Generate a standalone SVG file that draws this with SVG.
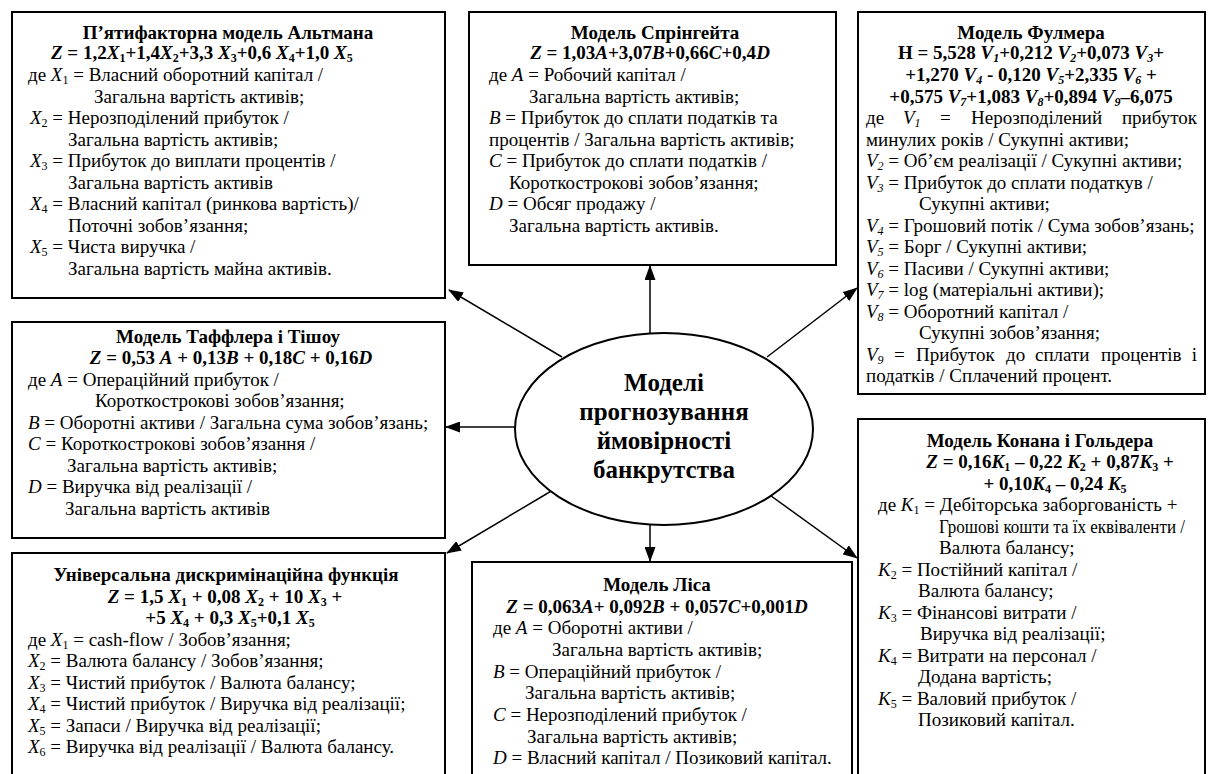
<svg xmlns="http://www.w3.org/2000/svg" width="1214" height="774" viewBox="0 0 1214 774">
<defs>
<style>
.bx{fill:#fff;stroke:#000;stroke-width:2}
.t{font-family:"Liberation Serif","Times New Roman",serif;font-size:19px;fill:#000}
.b{font-weight:bold}
.i{font-style:italic}
.c{text-anchor:middle}
.e{text-anchor:end}
.s{font-size:12px}
.big{font-family:"Liberation Serif","Times New Roman",serif;font-size:25px;font-weight:bold;text-anchor:middle;fill:#000}
.ln{stroke:#000;stroke-width:1.5;fill:none;marker-end:url(#ah)}
</style>
<marker id="ah" markerUnits="userSpaceOnUse" markerWidth="15" markerHeight="11" refX="14" refY="5.5" orient="auto">
<path d="M0,0 L15,5.5 L0,11 z" fill="#000"/>
</marker>
</defs>
<rect width="1214" height="774" fill="#fff"/>

<g id="connectors">
<line class="ln" x1="562" y1="357" x2="449" y2="290"/>
<line class="ln" x1="650" y1="334" x2="650" y2="266"/>
<line class="ln" x1="767" y1="357" x2="857" y2="288"/>
<line class="ln" x1="515" y1="427" x2="446" y2="427"/>
<line class="ln" x1="553" y1="490" x2="447" y2="553"/>
<line class="ln" x1="650" y1="524" x2="650" y2="561"/>
<line class="ln" x1="767" y1="493" x2="857" y2="558"/>
</g>

<g id="altman">
<rect class="bx" x="12" y="12" width="433" height="286"/>
<text class="t b c" x="228" y="39">П’ятифакторна модель Альтмана</text>
<text class="t b" x="51" y="59"><tspan class="i">Z</tspan> = 1,2<tspan class="i">X</tspan><tspan class="s" dy="3">1</tspan><tspan dy="-3">+1,4</tspan><tspan class="i">X</tspan><tspan class="s" dy="3">2</tspan><tspan dy="-3">+3,3 </tspan><tspan class="i">X</tspan><tspan class="s" dy="3">3</tspan><tspan dy="-3">+0,6 </tspan><tspan class="i">X</tspan><tspan class="s" dy="3">4</tspan><tspan dy="-3">+1,0 </tspan><tspan class="i">X</tspan><tspan class="s" dy="3">5</tspan></text>
<text class="t" x="28" y="81">де <tspan class="i">X</tspan><tspan class="s" dy="3">1</tspan><tspan dy="-3"> = Власний оборотний капітал /</tspan></text>
<text class="t" x="94" y="102.5">Загальна вартість активів;</text>
<text class="t" x="30" y="124"><tspan class="i">X</tspan><tspan class="s" dy="3">2</tspan><tspan dy="-3"> = Нерозподілений прибуток /</tspan></text>
<text class="t" x="68" y="145.5">Загальна вартість активів;</text>
<text class="t" x="30" y="167"><tspan class="i">X</tspan><tspan class="s" dy="3">3</tspan><tspan dy="-3"> = Прибуток до виплати процентів /</tspan></text>
<text class="t" x="68" y="188.5">Загальна вартість активів</text>
<text class="t" x="30" y="210"><tspan class="i">X</tspan><tspan class="s" dy="3">4</tspan><tspan dy="-3"> = Власний капітал (ринкова вартість)/</tspan></text>
<text class="t" x="68" y="231.5">Поточні зобов’язання;</text>
<text class="t" x="30" y="253"><tspan class="i">X</tspan><tspan class="s" dy="3">5</tspan><tspan dy="-3"> = Чиста виручка /</tspan></text>
<text class="t" x="68" y="274.5">Загальна вартість майна активів.</text>
</g>

<g id="springate">
<rect class="bx" x="469" y="12" width="367" height="253"/>
<text class="t b c" x="655" y="39">Модель Спрінгейта</text>
<text class="t b c" x="650" y="59"><tspan class="i">Z</tspan> = 1,03<tspan class="i">A</tspan>+3,07<tspan class="i">B</tspan>+0,66<tspan class="i">C</tspan>+0,4<tspan class="i">D</tspan></text>
<text class="t" x="489" y="81">де <tspan class="i">A</tspan> = Робочий капітал /</text>
<text class="t" x="529" y="102.5">Загальна вартість активів;</text>
<text class="t" x="489" y="124"><tspan class="i">B</tspan> = Прибуток до сплати податків та</text>
<text class="t" x="489" y="145.5">процентів / Загальна вартість активів;</text>
<text class="t" x="489" y="167"><tspan class="i">C</tspan> = Прибуток до сплати податків /</text>
<text class="t" x="509" y="188.5">Короткострокові зобов’язання;</text>
<text class="t" x="489" y="210"><tspan class="i">D</tspan> = Обсяг продажу /</text>
<text class="t" x="509" y="231.5">Загальна вартість активів.</text>
</g>

<g id="fulmer">
<rect class="bx" x="858" y="12" width="347" height="382"/>
<text class="t b c" x="1031" y="39">Модель Фулмера</text>
<text class="t b c" x="1031" y="59">Н = 5,528 <tspan class="i">V</tspan><tspan class="i s" dy="3">1</tspan><tspan dy="-3">+0,212 </tspan><tspan class="i">V</tspan><tspan class="i s" dy="3">2</tspan><tspan dy="-3">+0,073 </tspan><tspan class="i">V</tspan><tspan class="i s" dy="3">3</tspan><tspan dy="-3">+</tspan></text>
<text class="t b c" x="1031" y="81">+1,270 <tspan class="i">V</tspan><tspan class="i s" dy="3">4</tspan><tspan dy="-3"> - 0,120 </tspan><tspan class="i">V</tspan><tspan class="i s" dy="3">5</tspan><tspan dy="-3">+2,335 </tspan><tspan class="i">V</tspan><tspan class="i s" dy="3">6</tspan><tspan dy="-3"> +</tspan></text>
<text class="t b c" x="1031" y="102.5">+0,575 <tspan class="i">V</tspan><tspan class="i s" dy="3">7</tspan><tspan dy="-3">+1,083 </tspan><tspan class="i">V</tspan><tspan class="i s" dy="3">8</tspan><tspan dy="-3">+0,894 </tspan><tspan class="i">V</tspan><tspan class="i s" dy="3">9</tspan><tspan dy="-3">–6,075</tspan></text>
<text class="t" x="866" y="124">де</text>
<text class="t" x="903" y="124"><tspan class="i">V</tspan><tspan class="i s" dy="3">1</tspan></text>
<text class="t" x="940" y="124">=</text>
<text class="t" x="971" y="124">Нерозподілений</text>
<text class="t e" x="1197" y="124">прибуток</text>
<text class="t" x="866" y="145.5">минулих років / Сукупні активи;</text>
<text class="t" x="866" y="167"><tspan class="i">V</tspan><tspan class="i s" dy="3">2</tspan><tspan dy="-3"> = Об’єм реалізації / Сукупні активи;</tspan></text>
<text class="t" x="866" y="188.5"><tspan class="i">V</tspan><tspan class="i s" dy="3">3</tspan><tspan dy="-3"> = Прибуток до сплати податкув /</tspan></text>
<text class="t" x="919" y="210">Сукупні активи;</text>
<text class="t" x="866" y="231.5"><tspan class="i">V</tspan><tspan class="i s" dy="3">4</tspan><tspan dy="-3"> = Грошовий потік / Сума зобов’язань;</tspan></text>
<text class="t" x="866" y="253"><tspan class="i">V</tspan><tspan class="i s" dy="3">5</tspan><tspan dy="-3"> = Борг / Сукупні активи;</tspan></text>
<text class="t" x="866" y="274.5"><tspan class="i">V</tspan><tspan class="i s" dy="3">6</tspan><tspan dy="-3"> = Пасиви / Сукупні активи;</tspan></text>
<text class="t" x="866" y="296"><tspan class="i">V</tspan><tspan class="i s" dy="3">7</tspan><tspan dy="-3"> = log (матеріальні активи);</tspan></text>
<text class="t" x="866" y="317.5"><tspan class="i">V</tspan><tspan class="i s" dy="3">8</tspan><tspan dy="-3"> = Оборотний капітал /</tspan></text>
<text class="t" x="919" y="339">Сукупні зобов’язання;</text>
<text class="t" x="866" y="360.5"><tspan class="i">V</tspan><tspan class="i s" dy="3">9</tspan></text>
<text class="t" x="894" y="360.5">=</text>
<text class="t" x="916" y="360.5">Прибуток</text>
<text class="t" x="1006" y="360.5">до</text>
<text class="t" x="1035" y="360.5">сплати</text>
<text class="t" x="1101" y="360.5">процентів</text>
<text class="t e" x="1197" y="360.5">і</text>
<text class="t" x="866" y="382">податків / Сплачений процент.</text>
</g>

<g id="taffler">
<rect class="bx" x="12" y="322" width="433" height="216"/>
<text class="t b c" x="228" y="343">Модель Таффлера і Тішоу</text>
<text class="t b c" x="231" y="364"><tspan class="i">Z</tspan> = 0,53 <tspan class="i">A</tspan> + 0,13<tspan class="i">B</tspan> + 0,18<tspan class="i">C</tspan> + 0,16<tspan class="i">D</tspan></text>
<text class="t" x="28" y="385.5">де <tspan class="i">A</tspan> = Операційний прибуток /</text>
<text class="t" x="95" y="407">Короткострокові зобов’язання;</text>
<text class="t" x="28" y="428.5"><tspan class="i">B</tspan> = Оборотні активи / Загальна сума зобов’язань;</text>
<text class="t" x="28" y="450"><tspan class="i">C</tspan> = Короткострокові зобов’язання /</text>
<text class="t" x="67" y="471.5">Загальна вартість активів;</text>
<text class="t" x="28" y="493"><tspan class="i">D</tspan> = Виручка від реалізації /</text>
<text class="t" x="65" y="514.5">Загальна вартість активів</text>
</g>

<g id="center">
<ellipse cx="664" cy="429" rx="149" ry="96" fill="#fff" stroke="#000" stroke-width="2"/>
<text class="big" x="664" y="391">Моделі</text>
<text class="big" x="664" y="420">прогнозування</text>
<text class="big" x="664" y="449">ймовірності</text>
<text class="big" x="664" y="478">банкрутства</text>
</g>

<g id="konan">
<rect class="bx" x="858" y="419" width="347" height="362"/>
<text class="t b c" x="1040" y="447">Модель Конана і Гольдера</text>
<text class="t b c" x="1050" y="468"><tspan class="i">Z</tspan> = 0,16<tspan class="i">K</tspan><tspan class="s" dy="3">1</tspan><tspan dy="-3"> – 0,22 </tspan><tspan class="i">K</tspan><tspan class="s" dy="3">2</tspan><tspan dy="-3"> + 0,87</tspan><tspan class="i">K</tspan><tspan class="s" dy="3">3</tspan><tspan dy="-3"> +</tspan></text>
<text class="t b c" x="1055" y="489.5">+ 0,10<tspan class="i">K</tspan><tspan class="s" dy="3">4</tspan><tspan dy="-3"> – 0,24 </tspan><tspan class="i">K</tspan><tspan class="s" dy="3">5</tspan></text>
<text class="t" x="878" y="511">де <tspan class="i">K</tspan><tspan class="s" dy="3">1</tspan><tspan dy="-3"> = Дебіторська заборгованість +</tspan></text>
<text class="t" x="939" y="532.5" textLength="246" lengthAdjust="spacingAndGlyphs">Грошові кошти та їх еквіваленти /</text>
<text class="t" x="939" y="554">Валюта балансу;</text>
<text class="t" x="878" y="575.5"><tspan class="i">K</tspan><tspan class="s" dy="3">2</tspan><tspan dy="-3"> = Постійний капітал /</tspan></text>
<text class="t" x="918" y="597">Валюта балансу;</text>
<text class="t" x="878" y="618.5"><tspan class="i">K</tspan><tspan class="s" dy="3">3</tspan><tspan dy="-3"> = Фінансові витрати /</tspan></text>
<text class="t" x="920" y="640">Виручка від реалізації;</text>
<text class="t" x="878" y="661.5"><tspan class="i">K</tspan><tspan class="s" dy="3">4</tspan><tspan dy="-3"> = Витрати на персонал /</tspan></text>
<text class="t" x="918" y="683">Додана вартість;</text>
<text class="t" x="878" y="704.5"><tspan class="i">K</tspan><tspan class="s" dy="3">5</tspan><tspan dy="-3"> = Валовий прибуток /</tspan></text>
<text class="t" x="918" y="726">Позиковий капітал.</text>
</g>

<g id="universal">
<rect class="bx" x="12" y="553" width="433" height="228"/>
<text class="t b c" x="226" y="581">Універсальна дискримінаційна функція</text>
<text class="t b c" x="225" y="602.5"><tspan class="i">Z</tspan> = 1,5 <tspan class="i">X</tspan><tspan class="s" dy="3">1</tspan><tspan dy="-3"> + 0,08 </tspan><tspan class="i">X</tspan><tspan class="s" dy="3">2</tspan><tspan dy="-3"> + 10 </tspan><tspan class="i">X</tspan><tspan class="s" dy="3">3</tspan><tspan dy="-3"> +</tspan></text>
<text class="t b c" x="230" y="624">+5 <tspan class="i">X</tspan><tspan class="s" dy="3">4</tspan><tspan dy="-3"> + 0,3 </tspan><tspan class="i">X</tspan><tspan class="s" dy="3">5</tspan><tspan dy="-3">+0,1 </tspan><tspan class="i">X</tspan><tspan class="s" dy="3">5</tspan></text>
<text class="t" x="28" y="645.5">де <tspan class="i">X</tspan><tspan class="s" dy="3">1</tspan><tspan dy="-3"> = cash-flow / Зобов’язання;</tspan></text>
<text class="t" x="28" y="667"><tspan class="i">X</tspan><tspan class="s" dy="3">2</tspan><tspan dy="-3"> = Валюта балансу / Зобов’язання;</tspan></text>
<text class="t" x="28" y="688.5"><tspan class="i">X</tspan><tspan class="s" dy="3">3</tspan><tspan dy="-3"> = Чистий прибуток / Валюта балансу;</tspan></text>
<text class="t" x="28" y="710"><tspan class="i">X</tspan><tspan class="s" dy="3">4</tspan><tspan dy="-3"> = Чистий прибуток / Виручка від реалізації;</tspan></text>
<text class="t" x="28" y="731.5"><tspan class="i">X</tspan><tspan class="s" dy="3">5</tspan><tspan dy="-3"> = Запаси / Виручка від реалізації;</tspan></text>
<text class="t" x="28" y="753"><tspan class="i">X</tspan><tspan class="s" dy="3">6</tspan><tspan dy="-3"> = Виручка від реалізації / Валюта балансу.</tspan></text>
</g>

<g id="lis">
<rect class="bx" x="472" y="562" width="380" height="219"/>
<text class="t b c" x="657" y="591">Модель Ліса</text>
<text class="t b c" x="657" y="613"><tspan class="i">Z</tspan> = 0,063<tspan class="i">A</tspan>+ 0,092<tspan class="i">B</tspan> + 0,057<tspan class="i">C</tspan>+0,001<tspan class="i">D</tspan></text>
<text class="t" x="493" y="634">де <tspan class="i">A</tspan> = Оборотні активи /</text>
<text class="t" x="552" y="656">Загальна вартість активів;</text>
<text class="t" x="493" y="678"><tspan class="i">B</tspan> = Операційний прибуток /</text>
<text class="t" x="525" y="699">Загальна вартість активів;</text>
<text class="t" x="493" y="721"><tspan class="i">C</tspan> = Нерозподілений прибуток /</text>
<text class="t" x="527" y="743">Загальна вартість активів;</text>
<text class="t" x="493" y="764"><tspan class="i">D</tspan> = Власний капітал / Позиковий капітал.</text>
</g>
</svg>
